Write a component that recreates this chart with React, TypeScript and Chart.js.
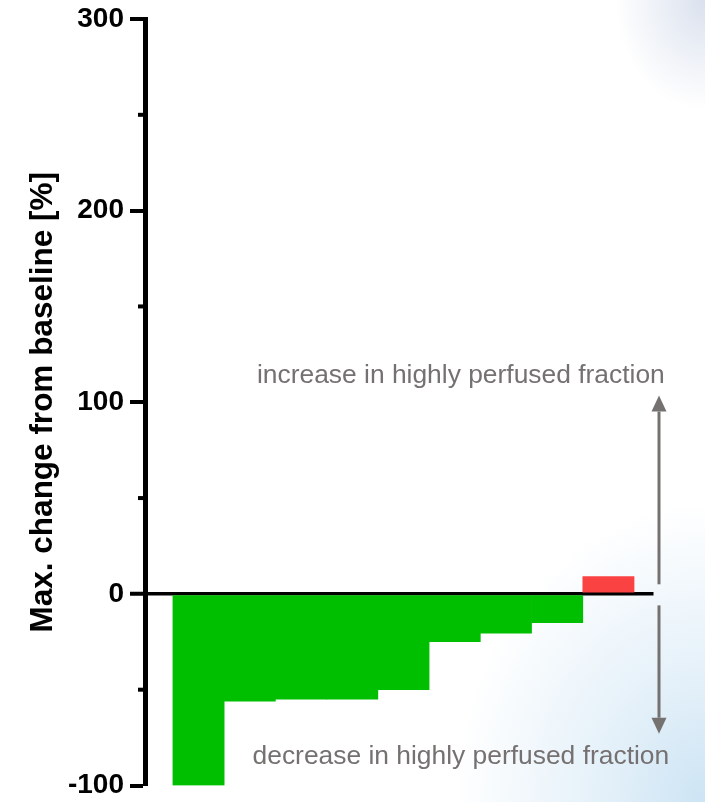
import React, { useEffect, useRef } from 'react';
import { Chart, registerables } from 'chart.js';

Chart.register(...registerables);

// ---- data ----
const patients = ['1', '2', '3', '4', '5', '6', '7', '8', '9'];
const maxChange = [-100, -56, -55, -55, -50, -25, -20.5, -15, 9];
const yMajorTicks = [-100, 0, 100, 200, 300];
const yTitle = 'Max. change from baseline [%]';
const increaseLabel = 'increase in highly perfused fraction';
const decreaseLabel = 'decrease in highly perfused fraction';

const GREEN = '#00BE00';
const RED = '#FA4242';
const GREY = '#767171';
const FONT = "'Liberation Sans', Arial, Helvetica, sans-serif";

function drawArrow(ctx: CanvasRenderingContext2D, x: number, yFrom: number, yTo: number) {
  const dir = yTo < yFrom ? -1 : 1;
  const headLen = 16;
  const headHalf = 7.5;
  ctx.beginPath();
  ctx.moveTo(x, yFrom);
  ctx.lineTo(x, yTo - dir * headLen);
  ctx.stroke();
  ctx.beginPath();
  ctx.moveTo(x, yTo);
  ctx.lineTo(x - headHalf, yTo - dir * headLen);
  ctx.lineTo(x + headHalf, yTo - dir * headLen);
  ctx.closePath();
  ctx.fill();
}

const annotatePlugin = {
  id: 'annotate',
  afterDraw(chart: any) {
    const { ctx, chartArea, scales } = chart;
    const y = scales.y;
    const x = scales.x;
    ctx.save();
    // minor ticks
    ctx.strokeStyle = '#000';
    ctx.lineWidth = 4;
    y.ticks.forEach((t: any) => {
      if (!yMajorTicks.includes(t.value)) {
        const py = y.getPixelForValue(t.value);
        ctx.beginPath();
        ctx.moveTo(chartArea.left - 7, py);
        ctx.lineTo(chartArea.left, py);
        ctx.stroke();
      }
    });
    // arrows
    ctx.strokeStyle = GREY;
    ctx.fillStyle = GREY;
    ctx.lineWidth = 3;
    const ax = chartArea.right + 5.5;
    drawArrow(ctx, ax, y.getPixelForValue(5), y.getPixelForValue(103.5));
    drawArrow(ctx, ax, y.getPixelForValue(-6), y.getPixelForValue(-73));
    // annotation text
    ctx.font = `26.4px ${FONT}`;
    ctx.textAlign = 'center';
    ctx.textBaseline = 'alphabetic';
    const tx = x.getPixelForValue(5.12);
    ctx.fillText(increaseLabel, tx, y.getPixelForValue(110.3));
    ctx.fillText(decreaseLabel, tx, y.getPixelForValue(-89));
    ctx.restore();
  },
};

export default function App() {
  const ref = useRef<HTMLCanvasElement>(null);

  useEffect(() => {
    if (!ref.current) return;
    const chart = new Chart(ref.current, {
      type: 'bar',
      data: {
        labels: patients,
        datasets: [
          {
            label: 'Max. change',
            data: maxChange.map((v, i) => ({ x: i, y: v })) as any,
            backgroundColor: maxChange.map((v) => (v >= 0 ? RED : GREEN)),
            borderWidth: 0,
            barPercentage: 1,
            categoryPercentage: 1,
          },
        ],
      },
      options: {
        animation: false,
        responsive: false,
        devicePixelRatio: 1,
        layout: { padding: { top: 19, bottom: 16.5, left: 0, right: 51.5 } },
        plugins: {
          legend: { display: false },
          tooltip: { enabled: false },
        },
        scales: {
          x: {
            type: 'linear',
            min: -1.045,
            max: 8.88,
            offset: false,
            display: false,
            grid: { offset: false },
            afterBuildTicks: (s: any) => {
              s.ticks = patients.map((_, i) => ({ value: i }));
            },
          },
          y: {
            min: -100,
            max: 300,
            z: 1,
            afterFit: (s: any) => {
              s.width = 145;
              s.paddingTop = 0;
              s.paddingBottom = 0;
            },
            border: { display: true, color: '#000', width: 5 },
            grid: {
              drawOnChartArea: true,
              drawTicks: true,
              tickLength: 15,
              color: (c: any) => (c.tick && c.tick.value === 0 ? '#000' : 'rgba(0,0,0,0)'),
              lineWidth: (c: any) => (c.tick && c.tick.value === 0 ? 3.5 : 0),
              tickColor: (c: any) =>
                c.tick && yMajorTicks.includes(c.tick.value) ? '#000' : 'rgba(0,0,0,0)',
              tickWidth: 4,
            },
            ticks: {
              stepSize: 50,
              padding: 6,
              color: '#000',
              font: { family: FONT, size: 28, weight: 'bold' },
              callback: (v: any) => (yMajorTicks.includes(Number(v)) ? String(v) : ''),
            },
            title: {
              display: true,
              text: yTitle,
              color: '#000',
              font: { family: FONT, size: 31.5, weight: 'bold' },
              padding: { top: 24, bottom: 0 },
            },
          },
        },
      },
      plugins: [annotatePlugin],
    } as any);
    return () => chart.destroy();
  }, []);

  return (
    <div
      style={{
        position: 'fixed',
        left: 0,
        top: 0,
        width: 705,
        height: 802,
        background:
          'radial-gradient(ellipse 250px 300px at 100% 100%, rgba(205,228,244,1) 0%, rgba(218,235,247,0.75) 40%, rgba(255,255,255,0) 100%), radial-gradient(ellipse 90px 110px at 100% 0%, rgba(218,225,238,1) 0%, rgba(255,255,255,0) 100%), #fff',
      }}
    >
      <canvas ref={ref} width={705} height={802} style={{ display: 'block', width: 705, height: 802 }} />
    </div>
  );
}
